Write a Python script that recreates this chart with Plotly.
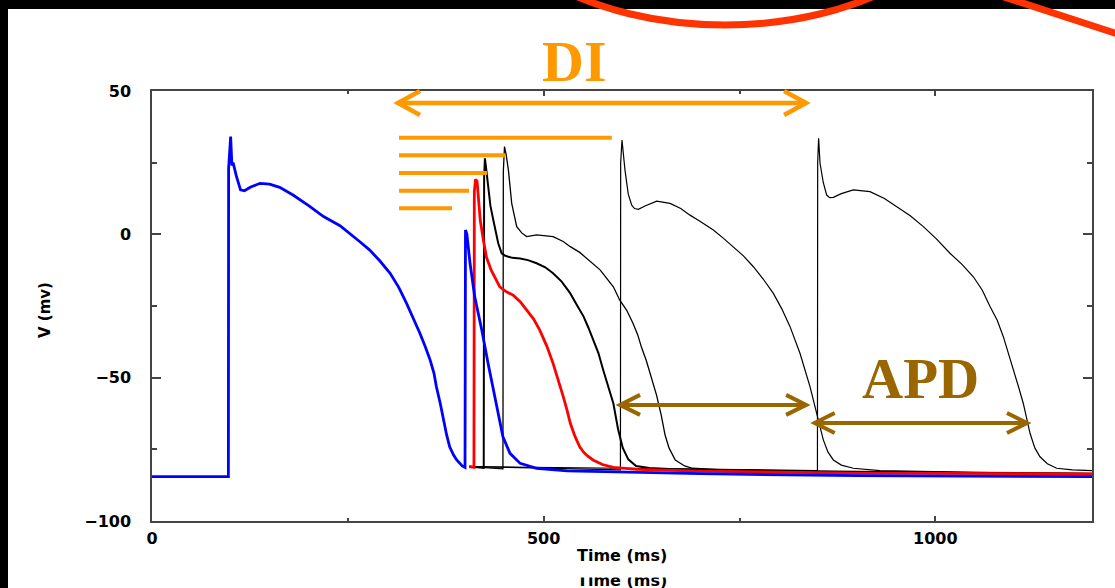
import plotly.graph_objects as go

# ---------------- data (time in ms, voltage in mV) ----------------
blue_t = [0, 97.5, 97.8, 99, 100.4, 102, 103.5, 108, 113, 118, 126, 138, 150, 163, 180, 200, 219,
          240, 253, 265, 278, 291, 304, 315, 325, 334, 342, 349, 355, 360, 363, 368, 372, 376, 380,
          385, 389, 393, 396, 399.6, 400.2, 402, 406, 412, 421, 429, 438, 448, 457, 470, 491, 530,
          700, 900, 1200]
blue_v = [-84.5, -84.5, 23, 30, 34.1, 24, 25, 20, 15.5, 15.2, 16.5, 17.8, 17.5, 16.4, 13.7, 10, 6.2,
          3, 0.3, -2.5, -5.5, -9.3, -13.6, -18.5, -24.1, -29.3, -34.5, -39.3, -43.8, -48.5, -53.1,
          -59, -64.8, -69.8, -74.1, -77, -78.7, -80, -80.8, -81.3, 1.5, 0, -10.1, -21.8, -33.4, -45,
          -56.6, -70.6, -76.4, -79.9, -81.6, -82.5, -83.5, -84.2, -84.5]

red_t = [405, 411, 411.5, 413, 415, 417, 419, 423, 427, 433, 438, 444, 452, 461, 470, 478, 487, 495,
         504, 512, 519, 525, 530, 534, 540, 546, 551, 556, 563, 575, 589, 620, 700, 900, 1200]
red_v = [-81, -81.3, 15, 19.2, 18.5, 10.8, 5, -2, -8, -12.5, -15, -18.3, -20, -21.2, -23.5, -26.4,
         -29.5, -33.4, -39, -45, -51, -56.6, -61.5, -65.9, -70.5, -74.1, -76, -77.3, -78.7, -80.3,
         -81.3, -82, -82.6, -83.3, -83.6]

black1_t = [405, 423.5, 424, 425, 427, 429.4, 432, 435.7, 442, 446.4, 451, 460, 470, 480, 491, 502,
            512, 523, 534, 542, 551, 557, 563, 570, 576, 580, 585, 589, 595, 601, 608, 618, 635,
            660, 800, 1000, 1200]
black1_v = [-81, -81.5, 20, 26.5, 22, 16.6, 10, 5, -3.1, -6.6, -7.5, -8.2, -8.4, -9, -10.1, -11.5,
            -13.6, -16.5, -20.6, -24.5, -28.7, -32.5, -36.5, -41.5, -47.3, -50.8, -55, -59, -68,
            -74.5, -78.5, -80.8, -81.5, -81.9, -82.6, -83.2, -83.6]

black2_t = [405, 448, 448.5, 450, 452, 455, 459.2, 465.6, 472, 478.3, 491, 512, 525, 534, 546, 563,
            572, 589, 597, 606, 614, 620, 625, 631, 636, 644, 650, 655, 660, 668, 680, 690, 725, 850,
            1000, 1200]
black2_v = [-81, -81.8, 22, 30.6, 28, 22.4, 10.8, 2.7, 0.5, -0.8, -0.2, -0.8, -2.5, -4.3, -6.3,
            -10.1, -12.4, -18.3, -22.9, -26.5, -31, -35, -39.5, -44, -48.5, -56, -63, -70, -74.5,
            -78.7, -80.8, -81.6, -82.2, -82.7, -83.2, -83.5]

black3_t = [405, 598, 598.3, 600, 603.8, 608, 612.4, 616, 620.9, 630, 644.3, 661.3, 675, 686.8, 700,
            716.6, 730, 742.1, 755, 767.7, 780, 793.2, 804, 814.5, 827.2, 840, 848.5, 857, 863, 869.8,
            880, 895.3, 929.4, 1050, 1200]
black3_v = [-81, -82.2, 25, 32.9, 22.4, 14, 10.2, 9, 8.7, 10, 11.6, 10.8, 9, 6.7, 4.5, 1.5, -1.5,
            -4.3, -7.5, -11.3, -15.5, -20.6, -26, -32.2, -41.5, -53.1, -62.4, -71.7, -76, -78.7,
            -80.5, -81.6, -82.4, -83, -83.4]

black4_t = [405, 849.5, 849.8, 851, 852.8, 857, 861.3, 865, 869.8, 880, 895.3, 916.6, 935, 950.6, 968,
            984.7, 1001, 1018.7, 1034, 1048.5, 1060, 1069.8, 1079, 1086.8, 1093, 1099.6, 1106, 1112.3,
            1120.9, 1127, 1133.6, 1143, 1154.9, 1175, 1200]
black4_v = [-81, -82.4, 25, 33.5, 24.8, 18, 13.7, 12.8, 12.9, 14.2, 15.5, 14.9, 12.5, 9.7, 6.5, 2.7,
            -1.5, -6.6, -10.5, -14.8, -19.5, -25.2, -30, -35.7, -41, -47.3, -53, -59, -69.4, -74.5,
            -77.6, -80, -81.6, -82.2, -82.4]

x_ticks = [0, 500, 1000]
y_ticks = [-100, -50, 0, 50]
X_RANGE = [0, 1200]
Y_RANGE = [-100, 50]

# annotation geometry in data units
di_arrow = (314, 835, 45.8)
apd_arrows = [(597.5, 835, -59.5), (846, 1117, -65.8)]
orange_bars_y = [33.7, 27.6, 21.4, 15.2, 9.1]
orange_bars_x0 = 315.3
orange_bars_x1 = [587, 450.7, 427.7, 404.7, 383]

# ---------------- layout helpers ----------------
W, H = 1115, 588
M_L, M_R, M_T, M_B = 152, 23, 91, 67
PW = W - M_L - M_R
PH = H - M_T - M_B

ORANGE = "#FF9900"
BROWN = "#996600"
RED_MARK = "#FF3300"


def pxp(px, py):
    return (px - M_L) / PW, (H - M_B - py) / PH


def dp(x, y):
    return ((x - X_RANGE[0]) / (X_RANGE[1] - X_RANGE[0]),
            (y - Y_RANGE[0]) / (Y_RANGE[1] - Y_RANGE[0]))


def double_arrow(x0, x1, y, color, width, hx, hy):
    a, yy = dp(x0, y)
    b, _ = dp(x1, y)
    dx, dy = hx / PW, hy / PH
    ln = dict(color=color, width=width)
    return [
        dict(type="line", xref="paper", yref="paper", x0=a, x1=b, y0=yy, y1=yy, line=ln, layer="above"),
        dict(type="path", xref="paper", yref="paper", layer="above", line=ln,
             path=f"M{a+dx},{yy+dy} L{a},{yy} L{a+dx},{yy-dy}"),
        dict(type="path", xref="paper", yref="paper", layer="above", line=ln,
             path=f"M{b-dx},{yy+dy} L{b},{yy} L{b-dx},{yy-dy}"),
    ]


fig = go.Figure()
for t, v, c, w in [(black4_t, black4_v, "black", 1.2), (black3_t, black3_v, "black", 1.2),
                   (black2_t, black2_v, "black", 1.3), (black1_t, black1_v, "black", 2.0),
                   (red_t, red_v, "#FF0000", 2.8), (blue_t, blue_v, "#0000FF", 2.8)]:
    fig.add_trace(go.Scatter(x=t, y=v, mode="lines", line=dict(color=c, width=w),
                             showlegend=False, hoverinfo="skip"))

shapes = []
# black slide background strips
x0p, y0p = pxp(-5, -5)
x1p, y1p = pxp(W + 5, 9)
shapes.append(dict(type="rect", xref="paper", yref="paper", x0=x0p, x1=x1p, y0=y1p, y1=y0p,
                   fillcolor="black", line=dict(width=0), layer="below"))
x0p, y0p = pxp(-5, -5)
x1p, y1p = pxp(8, H + 5)
shapes.append(dict(type="rect", xref="paper", yref="paper", x0=x0p, x1=x1p, y0=y1p, y1=y0p,
                   fillcolor="black", line=dict(width=0), layer="below"))
# red hand-drawn ellipse and stroke
ex0, ey0 = pxp(465, 25)
ex1, ey1 = pxp(985, -295)
shapes.append(dict(type="circle", xref="paper", yref="paper", x0=ex0, x1=ex1, y0=ey0, y1=ey1,
                   line=dict(color=RED_MARK, width=7), layer="above"))
lx0, ly0 = pxp(998, -5)
lx1, ly1 = pxp(1130, 38)
shapes.append(dict(type="line", xref="paper", yref="paper", x0=lx0, x1=lx1, y0=ly0, y1=ly1,
                   line=dict(color=RED_MARK, width=7), layer="above"))
# orange bars
for yv, xe in zip(orange_bars_y, orange_bars_x1):
    a, yy = dp(orange_bars_x0, yv)
    b, _ = dp(xe, yv)
    shapes.append(dict(type="line", xref="paper", yref="paper", x0=a, x1=b, y0=yy, y1=yy,
                       line=dict(color=ORANGE, width=4), layer="above"))
shapes += double_arrow(*di_arrow, ORANGE, 4.5, 22, 12)
for arr in apd_arrows:
    shapes += double_arrow(*arr, BROWN, 4, 20, 10)

annotations = []


def ann_px(text, px, py, **kw):
    x, y = pxp(px, py)
    d = dict(text=text, x=x, y=y, xref="paper", yref="paper", showarrow=False,
             xanchor="center", yanchor="middle")
    d.update(kw)
    annotations.append(d)


ann_px("<b>DI</b>", 574, 62, font=dict(family="Liberation Serif", size=58, color=ORANGE))
ann_px("<b>APD</b>", 920, 378, font=dict(family="Liberation Serif", size=57, color=BROWN))
lab_font = dict(family="DejaVu Sans", size=16, color="black", weight="bold")
ann_px("Time (ms)", 622, 555, font=lab_font)
ann_px("V (mv)", 45, 310, textangle=-90, font=dict(family="DejaVu Sans", size=15, color="black",
                                                      weight="bold"))
# partially hidden duplicate axis title at the bottom edge
ann_px("Time (ms)", 622, 580, font=lab_font)
ann_px(" ", 622, 572, width=150, height=9, bgcolor="white", borderpad=0,
       font=dict(size=4))

axis_common = dict(showline=True, linecolor="#444", linewidth=1.5, mirror="ticks", ticks="inside",
                   tickcolor="#444", tickwidth=1.5, showgrid=False, zeroline=False,
                   tickfont=dict(family="DejaVu Sans", size=16, color="black", weight="bold"))

fig.update_layout(
    width=W, height=H, autosize=False,
    margin=dict(l=M_L, r=M_R, t=M_T, b=M_B, pad=0),
    paper_bgcolor="white", plot_bgcolor="white",
    xaxis=dict(range=X_RANGE, tickvals=x_ticks, ticklen=5, ticklabelstandoff=2,
               minor=dict(dtick=250, tick0=0, ticks="inside", ticklen=3, tickcolor="#444", tickwidth=1.5),
               **axis_common),
    yaxis=dict(range=Y_RANGE, tickvals=y_ticks, ticklen=9, ticklabelstandoff=16,
               minor=dict(dtick=25, tick0=0, ticks="inside", ticklen=5, tickcolor="#444", tickwidth=1.5),
               **axis_common),
    shapes=shapes,
    annotations=annotations,
)

# remove the browser's default 8px page margin so the figure fills the window exactly
fig.write_html("out.html", config={"displayModeBar": False},
               post_script="document.body.style.margin='0px';")
